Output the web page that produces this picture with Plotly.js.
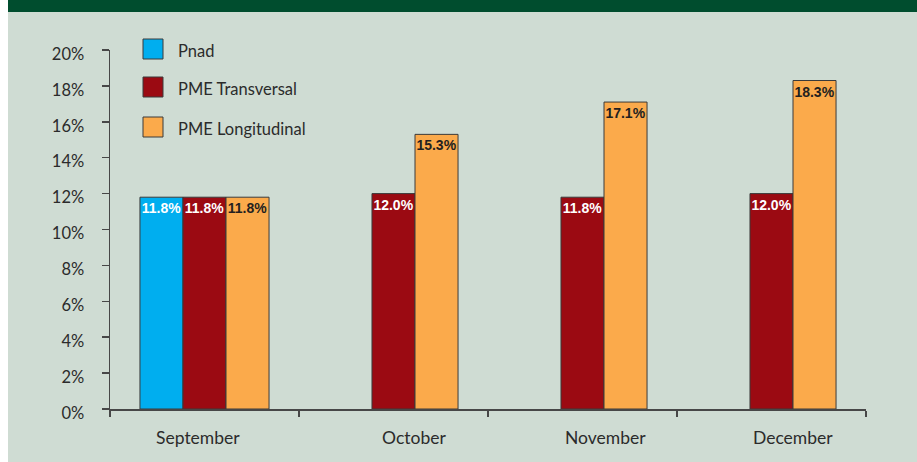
<!DOCTYPE html>
<html>
<head>
<meta charset="utf-8">
<script src="https://cdn.plot.ly/plotly-3.0.1.min.js"></script>
<style>
  html, body { margin: 0; padding: 0; background: #ffffff; }
  #chart { position: absolute; left: 8px; top: 0; width: 909px; height: 462px; }
</style>
</head>
<body>
<div id="chart"></div>
<script>
// ---- data ----
const categories = ['September', 'October', 'November', 'December'];
const seriesNames = ['Pnad', 'PME Transversal', 'PME Longitudinal'];
const pnad = [11.8, null, null, null];
const pmeTransversal = [11.8, 12.0, 11.8, 12.0];
const pmeLongitudinal = [11.8, 15.3, 17.1, 18.3];
const yTickValues = [0, 2, 4, 6, 8, 10, 12, 14, 16, 18, 20];

// ---- styles ----
const colors = ['#00aeef', '#9b0a12', '#fbaa4b'];
const textColors = ['#ffffff', '#ffffff', '#231f20'];
const labelShift = [-7, 20, 23, 21];
const bg = '#cfdcd3';
const inkColor = '#2b2b2b';
const axisColor = '#474747';

const seriesValues = [pnad, pmeTransversal, pmeLongitudinal];
const traces = seriesValues.map((vals, i) => ({
  type: 'bar',
  name: seriesNames[i],
  x: categories,
  y: vals,
  marker: { color: colors[i], line: { color: '#3a3a3a', width: 1 } },
  texttemplate: '%{y:.1f}%',
  textposition: 'inside',
  insidetextanchor: 'end',
  textangle: 0,
  constraintext: 'none',
  textfont: { family: 'Liberation Sans, Arial, sans-serif', size: 14, color: textColors[i], weight: 'bold' },
  hoverinfo: 'skip',
  showlegend: false,
  cliponaxis: false
}));

const shapes = [
  // top green band
  { type: 'rect', xref: 'paper', yref: 'paper', x0: -0.2, x1: 1.2,
    ysizemode: 'pixel', yanchor: 1, y0: 38, y1: 60,
    fillcolor: '#004d2e', line: { width: 0 }, layer: 'below' }
];
const annotations = [];
const legendTops = [11, -27, -67];
seriesNames.forEach((name, i) => {
  shapes.push({
    type: 'rect', xref: 'paper', yref: 'paper',
    xsizemode: 'pixel', xanchor: 0, x0: 33, x1: 53,
    ysizemode: 'pixel', yanchor: 1, y0: legendTops[i], y1: legendTops[i] - 20,
    fillcolor: colors[i], line: { color: '#3a3a3a', width: 1 }
  });
  annotations.push({
    xref: 'paper', yref: 'paper', x: 0, y: 1,
    xshift: 66, yshift: legendTops[i] - 12,
    xanchor: 'left', yanchor: 'middle',
    text: name, showarrow: false,
    font: { family: 'Lato, sans-serif', size: 16.5, color: inkColor }
  });
});
categories.forEach((c, i) => {
  annotations.push({
    xref: 'x', yref: 'paper', x: i, y: 0,
    xshift: labelShift[i], yshift: -28,
    xanchor: 'center', yanchor: 'middle',
    text: c, showarrow: false,
    font: { family: 'Lato, sans-serif', size: 17.5, color: inkColor }
  });
});

const layout = {
  width: 909, height: 462,
  margin: { l: 102, r: 51, t: 50, b: 53 },
  paper_bgcolor: bg,
  plot_bgcolor: bg,
  barmode: 'group',
  bargap: 0.317,
  bargroupgap: 0,
  showlegend: false,
  xaxis: {
    type: 'category',
    showticklabels: false,
    tickson: 'boundaries',
    ticks: 'outside', ticklen: 6, tickwidth: 1.5, tickcolor: axisColor,
    showline: true, linecolor: axisColor, linewidth: 1.5,
    showgrid: false, zeroline: false, fixedrange: true
  },
  yaxis: {
    range: [0, 20],
    tickvals: yTickValues,
    ticktext: yTickValues.map(v => v + '%'),
    ticks: 'outside', ticklen: 7, tickwidth: 1.5, tickcolor: axisColor,
    ticklabelstandoff: 14,
    ticklabelshift: 4,
    tickfont: { family: 'Lato, sans-serif', size: 16.5, color: inkColor },
    showline: true, linecolor: axisColor, linewidth: 1.5,
    showgrid: false, zeroline: false, fixedrange: true
  },
  shapes: shapes,
  annotations: annotations
};

Plotly.newPlot('chart', traces, layout, { staticPlot: true, displayModeBar: false });
</script>
</body>
</html>
